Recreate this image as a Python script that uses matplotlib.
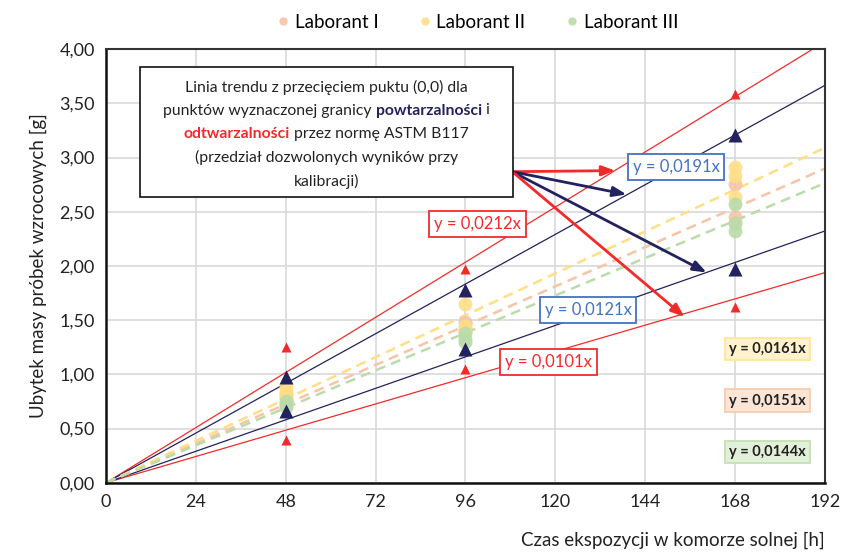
import matplotlib
matplotlib.use("Agg")
import matplotlib.pyplot as plt
from matplotlib.patches import Rectangle
from matplotlib.ticker import FuncFormatter, MultipleLocator

plt.rcParams['font.family'] = ['Lato', 'DejaVu Sans']

# dane pomiarowe
czas = [48, 96, 168]
laborant_nazwy = ["Laborant I", "Laborant II", "Laborant III"]
laborant_kolory = ["#F7C4A6", "#FFDE85", "#BADCA9"]
lab1 = [[0.78, 0.82, 0.74], [1.48, 1.42, 1.40], [2.76, 2.45, 2.40]]
lab2 = [[0.88, 0.84, 0.80], [1.65, 1.45, 1.40], [2.91, 2.83, 2.64]]
lab3 = [[0.72, 0.70, 0.75], [1.38, 1.33, 1.30], [2.57, 2.40, 2.32]]
trend_wsp = [0.0151, 0.0161, 0.0144]

# granice powtarzalnosci (granatowe) i odtwarzalnosci (czerwone)
odtw_gora = [1.25, 1.97, 3.59]
odtw_dol = [0.39, 1.05, 1.62]
powt_gora = [0.98, 1.78, 3.21]
powt_dol = [0.66, 1.23, 1.97]
odtw_wsp = [0.0212, 0.0101]
powt_wsp = [0.0191, 0.0121]

x_max = 192
czerwony = "#F42A2A"
granat = "#22225E"
niebieski = "#4472C4"

fig = plt.figure(figsize=(8.41, 5.53), dpi=100)
ax = fig.add_axes([0.126, 0.127, 0.855, 0.784])
ax.set_xlim(0, x_max)
ax.set_ylim(0, 4)
ax.xaxis.set_major_locator(MultipleLocator(24))
ax.yaxis.set_major_locator(MultipleLocator(0.5))
ax.yaxis.set_major_formatter(FuncFormatter(lambda v, p: f"{v:.2f}".replace(".", ",")))
ax.grid(True, color="#D9D9D9", linewidth=1.2)
ax.set_axisbelow(True)
ax.tick_params(length=0, labelsize=13, colors="#222222", pad=8)
for s in ["left", "bottom"]:
    ax.spines[s].set_linewidth(1.8)
    ax.spines[s].set_color("#111111")
for s in ["top", "right"]:
    ax.spines[s].set_linewidth(1.5)
    ax.spines[s].set_color("#333333")

# linie granic
for k in odtw_wsp:
    ax.plot([0, x_max], [0, k * x_max], color=czerwony, lw=0.9, zorder=2)
for k in powt_wsp:
    ax.plot([0, x_max], [0, k * x_max], color=granat, lw=0.9, zorder=2)

# linie trendu laborantow
for k, c in zip(trend_wsp, laborant_kolory):
    ax.plot([0, x_max], [0, k * x_max], color=c, lw=1.8, ls=(0, (4, 2.5)), zorder=2)

# punkty laborantow
for dane, c, nazwa in zip([lab1, lab2, lab3], laborant_kolory, laborant_nazwy):
    xs, ys = [], []
    for t, wart in zip(czas, dane):
        xs += [t] * len(wart)
        ys += wart
    ax.plot(xs, ys, "o", color=c, ms=10, mec="none", alpha=0.9, zorder=3, label=nazwa)

for dane in [odtw_gora, odtw_dol]:
    ax.plot(czas, dane, "^", color=czerwony, ms=7, mec="none", zorder=4)
for dane in [powt_gora, powt_dol]:
    ax.plot(czas, dane, "^", color=granat, ms=10, mec="none", zorder=4)

# strzalki z ramki opisu
start = (108.5, 2.87)
cele = [((136, 2.88), czerwony), ((139, 2.66), granat), ((160.4, 1.94), granat), ((154.5, 1.53), czerwony)]
for cel, c in cele:
    ax.annotate("", xy=cel, xytext=start,
                arrowprops=dict(arrowstyle="-|>,head_length=0.8,head_width=0.3", color=c, lw=2,
                                shrinkA=0, shrinkB=0), zorder=5)

# etykiety rownan
etykiety = [
    ("y = 0,0191x", 152.2, 2.91, niebieski, niebieski, "white", "normal"),
    ("y = 0,0212x", 99.2, 2.385, czerwony, czerwony, "white", "normal"),
    ("y = 0,0121x", 128.7, 1.59, niebieski, niebieski, "white", "normal"),
    ("y = 0,0101x", 118.2, 1.11, czerwony, czerwony, "white", "normal"),
    ("y = 0,0161x", 176.7, 1.235, "#222222", "#FFE699", "#FFF2CC", "bold"),
    ("y = 0,0151x", 176.7, 0.758, "#222222", "#F8CBAD", "#FBE5D6", "bold"),
    ("y = 0,0144x", 176.7, 0.283, "#222222", "#C5E0B4", "#E2F0D9", "bold"),
]
for txt, x, y, tc, ec, fc, w in etykiety:
    fs = 12 if w == "normal" else 10.5
    ax.text(x, y, txt, color=tc, fontsize=fs, fontweight=w, ha="center", va="center", zorder=6,
            bbox=dict(boxstyle="square,pad=0.3", fc=fc, ec=ec, lw=1.3))

# ramka z opisem
x0, x1 = (140 - 106) / 719 * x_max, (513 - 106) / 719 * x_max
y0, y1 = (482.7 - 197) / 108.4, (482.7 - 67) / 108.4
ax.add_patch(Rectangle((x0, y0), x1 - x0, y1 - y0, fc="white", ec="#111111", lw=1.2, zorder=6))
linie = [
    [("Linia trendu z przecięciem puktu (0,0) dla", "#222222", "normal")],
    [("punktów wyznaczonej granicy ", "#222222", "normal"), ("powtarzalności", granat, "bold"), (" i", "#222222", "normal")],
    [("odtwarzalności", czerwony, "bold"), (" przez normę ASTM B117", "#222222", "normal")],
    [("(przedział dozwolonych wyników przy", "#222222", "normal")],
    [("kalibracji)", "#222222", "normal")],
]
renderer = fig.canvas.get_renderer()
srodek_px = (140 + 513) / 2
for i, linia in enumerate(linie):
    y_px = 553 - (87 + i * 23.5)
    teksty = []
    for s, c, w in linia:
        t = fig.text(0, y_px / 553, s, color=c, fontweight=w, fontsize=11.3, va="center", zorder=7)
        teksty.append(t)
    szer = [t.get_window_extent(renderer).width for t in teksty]
    x_px = srodek_px - sum(szer) / 2
    for t, sz in zip(teksty, szer):
        t.set_x(x_px / 841)
        x_px += sz

ax.set_ylabel("Ubytek masy próbek wzrocowych [g]", fontsize=13.5, color="#222222", labelpad=9)
fig.text(825 / 841, 1 - 540 / 553, "Czas ekspozycji w komorze solnej [h]", fontsize=13.5,
         color="#222222", ha="right", va="center")

fig.legend(loc="center", bbox_to_anchor=(476 / 841, 1 - 22 / 553), ncol=3, frameon=False,
           fontsize=13.5, markerscale=0.6, handletextpad=0.1, columnspacing=2.0, handlelength=1.0)

fig.savefig("out.png", dpi=100)
